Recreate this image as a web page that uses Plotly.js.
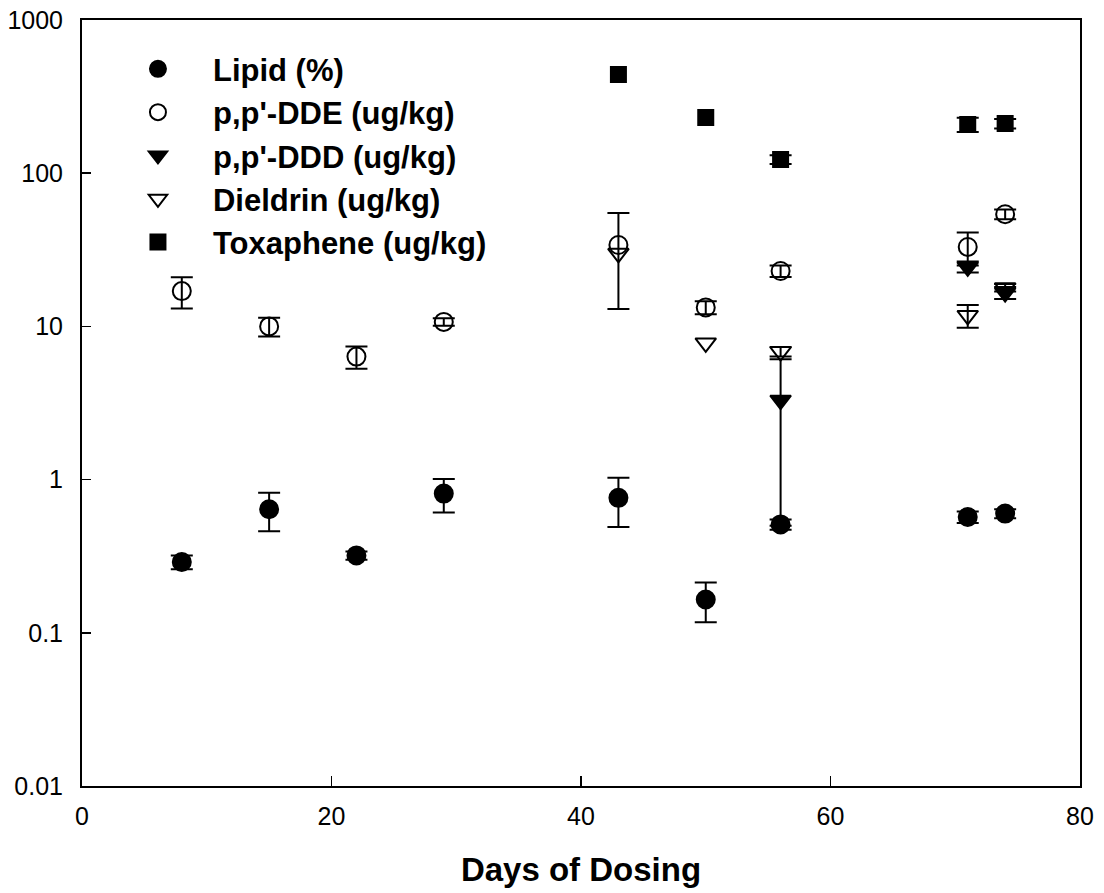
<!DOCTYPE html>
<html>
<head>
<meta charset="utf-8">
<script src="https://cdn.plot.ly/plotly-3.0.1.min.js"></script>
<style>html,body{margin:0;padding:0;background:#fff;}#chart{width:1104px;height:893px;}</style>
</head>
<body>
<div id="chart"></div>
<script>
// Days of dosing
const lipidDays = [8, 15, 22, 29, 43, 50, 56, 71, 74];
const lipidVals = [0.29, 0.64, 0.32, 0.81, 0.76, 0.165, 0.51, 0.57, 0.60];
const lipidErr  = [0.03, 0.18, 0.02, 0.20, 0.27, 0.048, 0.04, 0.05, 0.04];

const ddeDays = [8, 15, 22, 29, 43, 50, 56, 71, 74];
const ddeVals = [17.0, 10.0, 6.35, 10.7, 34.0, 13.3, 23.0, 33.0, 54.0];
const ddeErr  = [3.9, 1.4, 1.05, 0.6, 21.0, 1.3, 2.0, 8.0, 4.0];

const dddDays = [56, 71, 74];
const dddVals = [3.3, 24.5, 16.6];
const dddErr  = [2.8, 2.0, 1.5];

const dieldrinDays = [43, 50, 56, 71, 74];
const dieldrinVals = [30.0, 7.8, 6.85, 11.8, 17.9];
const dieldrinErr  = [NaN, NaN, 0.5, 2.0, 1.0];

const toxDays = [43, 50, 56, 71, 74];
const toxVals = [440, 231, 123, 208, 211];
const toxErr  = [NaN, NaN, 8, 22, 15];

const seriesNames = ['Lipid (%)', "p,p'-DDE (ug/kg)", "p,p'-DDD (ug/kg)", 'Dieldrin (ug/kg)', 'Toxaphene (ug/kg)'];
const yTickVals = [0.01, 0.1, 1, 10, 100, 1000];
const yTickText = ['0.01', '0.1', '1', '10', '100', '1000'];
const xTickVals = [0, 20, 40, 60, 80];
const xTickText = ['0', '20', '40', '60', '80'];

const FONT = 'Liberation Sans, Arial, Helvetica, sans-serif';

function mk(days, vals, errs, name, symbol, size, grp) {
  return {
    type: 'scatter', mode: 'markers', x: days, y: vals, name: name,
    legendgroup: grp,
    marker: {symbol: symbol, size: size, color: '#000', line: {color: '#000', width: 2}},
    error_y: {type: 'data', array: errs, symmetric: true, visible: true, color: '#000', thickness: 2, width: 11}
  };
}

const data = [
  mk(lipidDays, lipidVals, lipidErr, seriesNames[0], 'circle', 18, 'a'),
  mk(ddeDays, ddeVals, ddeErr, seriesNames[1], 'circle-open', 18, 'b'),
  mk(dddDays, dddVals, dddErr, seriesNames[2], 'triangle-down', 18, 'c'),
  mk(dieldrinDays, dieldrinVals, dieldrinErr, seriesNames[3], 'triangle-down-open', 18, 'd'),
  mk(toxDays, toxVals, toxErr, seriesNames[4], 'square', 15, 'e')
];

const layout = {
  width: 1104, height: 893,
  margin: {l: 82, r: 24, t: 20, b: 107},
  paper_bgcolor: '#fff', plot_bgcolor: '#fff',
  font: {family: FONT, color: '#000', size: 25},
  showlegend: true,
  legend: {
    x: 0.021, y: 0.971, xanchor: 'left', yanchor: 'top',
    bgcolor: 'rgba(0,0,0,0)', borderwidth: 0,
    font: {family: FONT, size: 31, color: '#000', weight: 'bold'},
    traceorder: 'grouped', tracegroupgap: 0, itemwidth: 100
  },
  xaxis: {
    range: [0, 80], tickvals: xTickVals, ticktext: xTickText,
    ticks: 'inside', ticklen: 10, tickwidth: 1.5, tickcolor: '#000',
    showline: true, linecolor: '#000', linewidth: 2, mirror: true,
    showgrid: false, zeroline: false, ticklabelstandoff: 7,
    tickfont: {family: FONT, size: 25, color: '#000'},
    title: {text: 'Days of Dosing', font: {family: FONT, size: 33, color: '#000', weight: 'bold'}, standoff: 29}
  },
  yaxis: {
    type: 'log', range: [-2, 3], tickvals: yTickVals, ticktext: yTickText,
    ticks: 'inside', ticklen: 9, tickwidth: 1.5, tickcolor: '#000',
    showline: true, linecolor: '#000', linewidth: 2, mirror: true,
    showgrid: false, zeroline: false, ticklabelstandoff: 12,
    tickfont: {family: FONT, size: 25, color: '#000'}
  }
};

Plotly.newPlot('chart', data, layout, {displayModeBar: false, staticPlot: true});
</script>
</body>
</html>
